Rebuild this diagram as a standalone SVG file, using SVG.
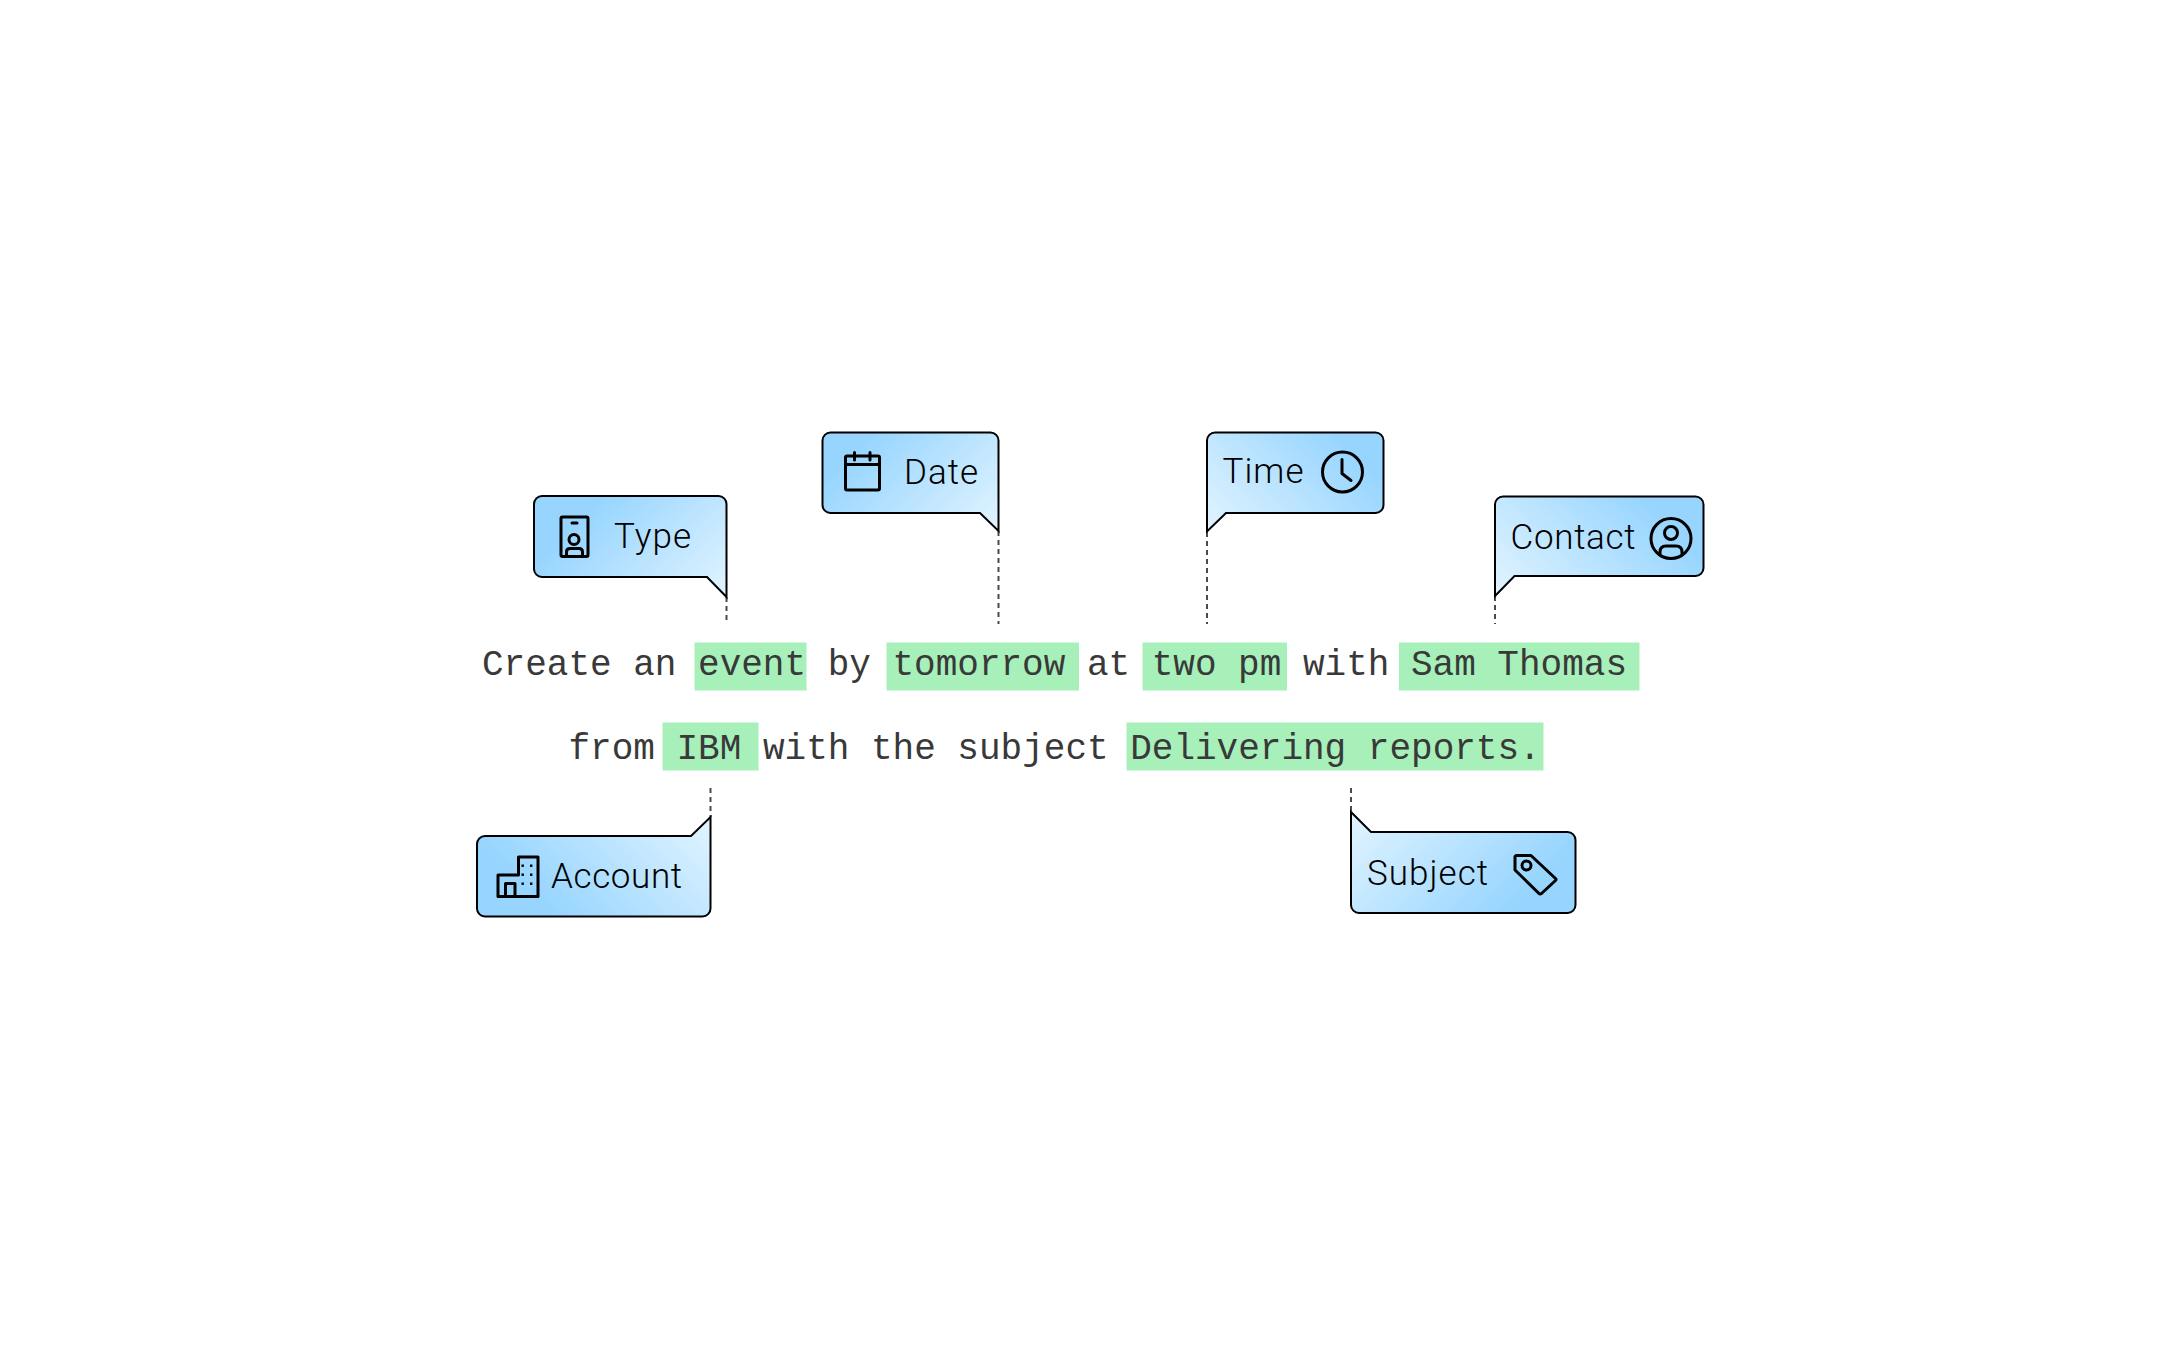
<svg xmlns="http://www.w3.org/2000/svg" width="2160" height="1350" viewBox="0 0 2160 1350">
<style>
.bubble{stroke:#000;stroke-width:2;stroke-linejoin:miter}
.lbl{font-family:"Roboto","Liberation Sans",sans-serif;font-size:35px;font-weight:300;fill:#000}
.mono{font-family:"Liberation Mono","DejaVu Sans Mono",monospace;font-size:36px;fill:#393939;white-space:pre}
.hl{fill:#a7f0ba}
.ic{fill:none;stroke:#000;stroke-width:3;stroke-linejoin:round;stroke-linecap:round}
.dot{fill:#000}
.conn{stroke:#4a4a4a;stroke-width:2;stroke-dasharray:5 4;fill:none}
</style>
<defs>
<linearGradient id="gs" gradientUnits="userSpaceOnUse" x1="0" y1="0" x2="150" y2="150"><stop offset=".25" stop-color="#97d5ff"/><stop offset="1" stop-color="#e2f4ff"/></linearGradient>
<linearGradient id="gType" href="#gs" x1="577" y1="447" x2="727" y2="597"/>
<linearGradient id="gDate" href="#gs" x1="849" y1="381" x2="999" y2="531"/>
<linearGradient id="gTime" href="#gs" x1="1357" y1="381" x2="1207" y2="531"/>
<linearGradient id="gContact" href="#gs" x1="1660" y1="431" x2="1495" y2="596"/>
<linearGradient id="gAccount" href="#gs" x1="541" y1="987" x2="711" y2="817"/>
<linearGradient id="gSubject" href="#gs" x1="1521" y1="982" x2="1351" y2="812"/>
</defs>
<rect width="2160" height="1350" fill="#fff"/>
<g id="connectors">
<path class="conn" d="M726.5 597V624"/>
<path class="conn" d="M998.500 531V624"/>
<path class="conn" d="M1207 532V624"/>
<path class="conn" d="M1495 596V624"/>
<path class="conn" d="M710.500 788V817"/>
<path class="conn" d="M1351 788V812"/>
</g>
<g id="sentence">
<rect class="hl" x="694.5" y="642.5" width="112" height="48"/>
<rect class="hl" x="886.5" y="642.5" width="192.5" height="48"/>
<rect class="hl" x="1142.5" y="642.5" width="144.5" height="48"/>
<rect class="hl" x="1399" y="642.5" width="240.5" height="48"/>
<rect class="hl" x="662.5" y="722.5" width="96" height="48"/>
<rect class="hl" x="1126.5" y="722.5" width="417" height="48"/>
<text class="mono" x="482" y="675">Create an event by tomorrow at two pm with Sam Thomas</text>
<text class="mono" x="568.5" y="759">from IBM with the subject Delivering reports.</text>
</g>
<g id="node-type">
<path class="bubble" fill="url(#gType)" d="M542 496H718.500a8 8 0 0 1 8 8V597L707 577H542a8 8 0 0 1-8-8V504a8 8 0 0 1 8-8Z"/>
<rect class="ic" x="561" y="517" width="27" height="39.500" rx="1.500"/>
<path class="ic" d="M572 523H577"/>
<circle class="ic" cx="574" cy="539.500" r="5"/>
<path class="ic" d="M566.500 556V552q0-3.500 3.500-3.500h9q3.500 0 3.500 3.500V556"/>
<text class="lbl" x="614" y="547.500" textLength="77" lengthAdjust="spacing">Type</text>
</g>
<g id="node-date">
<path class="bubble" fill="url(#gDate)" d="M830.500 432.500H990.500a8 8 0 0 1 8 8V531L980 513H830.500a8 8 0 0 1-8-8V440.500a8 8 0 0 1 8-8Z"/>
<rect class="ic" x="845.500" y="456" width="34" height="34" rx="1.500"/>
<path class="ic" d="M845.500 464.500H879.500M854.500 452.500V460M870 452.500V460"/>
<text class="lbl" x="904" y="483.500" textLength="74" lengthAdjust="spacing">Date</text>
</g>
<g id="node-time">
<path class="bubble" fill="url(#gTime)" d="M1215 432.500H1375.500a8 8 0 0 1 8 8V505a8 8 0 0 1-8 8H1226L1207 531.500V440.500a8 8 0 0 1 8-8Z"/>
<circle class="ic" cx="1342.500" cy="472" r="20"/>
<path class="ic" d="M1342 459.500V473.500L1351 480.500"/>
<text class="lbl" x="1222.500" y="483" textLength="81" lengthAdjust="spacing">Time</text>
</g>
<g id="node-contact">
<path class="bubble" fill="url(#gContact)" d="M1503 496.500H1695.500a8 8 0 0 1 8 8V568a8 8 0 0 1-8 8H1514.500L1495 596V504.500a8 8 0 0 1 8-8Z"/>
<circle class="ic" cx="1671" cy="538.500" r="20"/>
<circle class="ic" cx="1671" cy="533" r="6.500"/>
<path class="ic" d="M1660 554V552q0-6 6-6h10q6 0 6 6V554"/>
<text class="lbl" x="1510.500" y="548.500" textLength="125" lengthAdjust="spacing">Contact</text>
</g>
<g id="node-account">
<path class="bubble" fill="url(#gAccount)" d="M485 836H691L710.500 817V908.500a8 8 0 0 1-8 8H485a8 8 0 0 1-8-8V844a8 8 0 0 1 8-8Z"/>
<path class="ic" d="M498 896.500V875H518.500V857H538V896.500ZM505.500 896.500V883.500H515V896.500"/>
<rect class="dot" x="521.500" y="864.500" width="2.400" height="2.400"/><rect class="dot" x="530" y="864.500" width="2.400" height="2.400"/>
<rect class="dot" x="521.500" y="873.500" width="2.400" height="2.400"/><rect class="dot" x="530" y="873.500" width="2.400" height="2.400"/>
<rect class="dot" x="521.500" y="882.500" width="2.400" height="2.400"/><rect class="dot" x="530" y="882.500" width="2.400" height="2.400"/>
<text class="lbl" x="551" y="887.500" textLength="131" lengthAdjust="spacing">Account</text>
</g>
<g id="node-subject">
<path class="bubble" fill="url(#gSubject)" d="M1351 812L1371 832H1567.500a8 8 0 0 1 8 8V905a8 8 0 0 1-8 8H1359a8 8 0 0 1-8-8Z"/>
<path class="ic" d="M1516 855.500H1531L1555.500 878.500Q1556.500 879.500 1555.500 880.500L1541.500 893.500Q1540 894.500 1539 893.500L1515 870V856.500Z"/>
<circle class="ic" cx="1526.500" cy="865.500" r="4.500"/>
<text class="lbl" x="1367" y="884.500" textLength="121" lengthAdjust="spacing">Subject</text>
</g>
</svg>
